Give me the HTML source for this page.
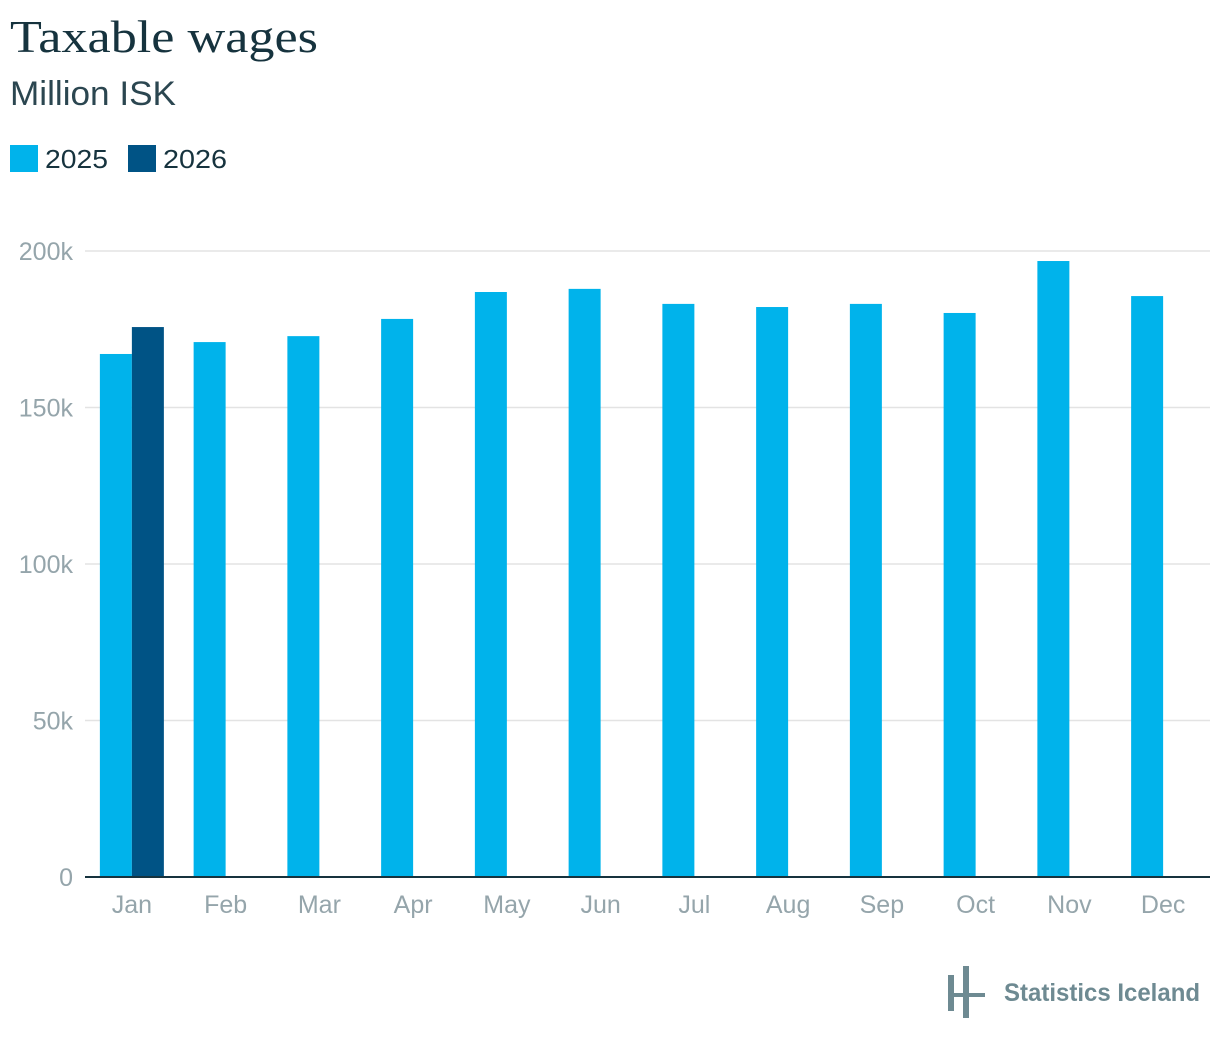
<!DOCTYPE html>
<html><head><meta charset="utf-8"><style>
body{margin:0;width:1220px;height:1044px;background:#fff;overflow:hidden;font-family:"Liberation Sans",sans-serif}
</style></head><body>
<svg id="c" width="1220" height="1044" xmlns="http://www.w3.org/2000/svg">
<text x="10" y="52" font-family="Liberation Serif,serif" font-size="46" fill="#16333e" textLength="308" lengthAdjust="spacingAndGlyphs">Taxable wages</text>
<text x="10" y="105" font-size="34" fill="#2b4650" textLength="166" lengthAdjust="spacingAndGlyphs">Million ISK</text>
<g>
<rect x="10" y="145" width="28" height="27" fill="#00b3eb"/>
<text x="45" y="168" font-size="26" fill="#16333e" textLength="63" lengthAdjust="spacingAndGlyphs">2025</text>
<rect x="128" y="145" width="28" height="27" fill="#005385"/>
<text x="163" y="168" font-size="26" fill="#16333e" textLength="64" lengthAdjust="spacingAndGlyphs">2026</text>
</g>
<g id="plot"></g>
<g>
<rect x="948" y="975" width="6" height="36" fill="#6e8a92"/>
<rect x="963" y="966" width="6" height="52" fill="#6e8a92"/>
<rect x="948" y="993" width="37" height="4" fill="#6e8a92"/>
<text x="1004" y="1001" font-size="25" font-weight="bold" fill="#6e8a92" textLength="196" lengthAdjust="spacingAndGlyphs">Statistics Iceland</text>
</g>
</svg>
<script>
const categories=["Jan","Feb","Mar","Apr","May","Jun","Jul","Aug","Sep","Oct","Nov","Dec"];
const values2025=[167.1,170.9,172.8,178.3,186.9,187.9,183.1,182.1,183.1,180.2,196.8,185.6];
const values2026=[175.7];
const yTicks=[0,50,100,150,200];
const yTickLabels=["0","50k","100k","150k","200k"];
const NS="http://www.w3.org/2000/svg";
const g=document.getElementById('plot');
const x0=85,x1=1210,yb=877,yt=251,maxV=200;
const y=v=>yb-(v/maxV)*(yb-yt);
const bw=(x1-x0)/categories.length;
const xc=i=>x0+bw*(i+0.5);
function mk(t,a){const e=document.createElementNS(NS,t);for(const k in a)e.setAttribute(k,a[k]);g.appendChild(e);return e;}
yTicks.forEach((t,i)=>{
 if(t>0){const l=mk('line',{x1:x0,x2:x1,y1:y(t),y2:y(t),stroke:'#e3e3e3','stroke-width':1.5});
 
 }
 const tx=mk('text',{x:73,y:y(t)+9,'text-anchor':'end','font-size':25,fill:'#95a5ab'});
 tx.textContent=yTickLabels[i];
 
 
});
categories.forEach((c,i)=>{
 const r=mk('rect',{x:xc(i)-32,y:y(values2025[i]),width:32,height:yb-y(values2025[i]),fill:'#00b3eb'});
 
 
 if(i<values2026.length){
  const r2=mk('rect',{x:xc(i),y:y(values2026[i]),width:32,height:yb-y(values2026[i]),fill:'#005385'});
  
  
 }
 const t=mk('text',{x:xc(i),y:913,'text-anchor':'middle','font-size':25,fill:'#95a5ab'});
 t.textContent=c;
 
 
});
const ax=mk('line',{x1:x0,x2:x1,y1:yb,y2:yb,stroke:'#16333e','stroke-width':2});


</script>
</body></html>
